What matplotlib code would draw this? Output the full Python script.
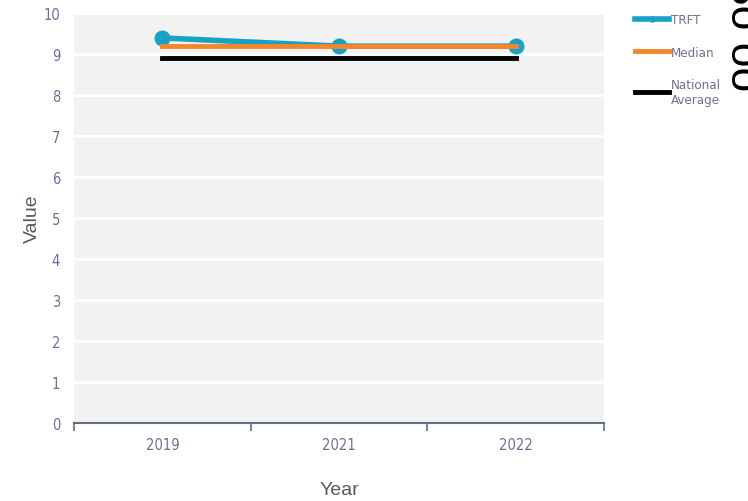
import numpy as np
import matplotlib.pyplot as plt

years = ['2019', '2021', '2022']
trft = [9.4, 9.2, 9.2]
median = [9.2, 9.2, 9.2]
national = [8.9, 8.9, 8.9]

plt.rcParams['font.family'] = ['DejaVu Sans']
plt.rcParams['font.stretch'] = 'condensed'

tick_col = '#6e6e9e'
fig = plt.figure(figsize=(7.48, 5.02), dpi=100)
ax = fig.add_axes([0.0989, 0.1554, 0.7086, 0.816])
ax.set_facecolor('#f2f2f2')

x = np.arange(len(years))
ax.plot(x, trft, color='#17a2c6', lw=4, marker='o', ms=10.5, label='TRFT', zorder=4)
ax.plot(x, median, color='#f5862a', lw=3.5, label='Median', zorder=5)
ax.plot(x, national, color='black', lw=3.5, label='National\nAverage', zorder=3)

ax.set_ylim(0, 10)
ax.set_yticks(range(0, 11))
ax.set_xlim(-0.5, 2.5)
ax.set_xticks([-0.5, 0.5, 1.5, 2.5])
ax.set_xticklabels([])
ax.set_xticks(x, minor=True)
ax.set_xticklabels(years, minor=True)
ax.tick_params(axis='x', which='major', length=6, width=1.2, color='#607080', direction='out')
ax.tick_params(axis='x', which='minor', length=0, pad=10, labelsize=10.5, labelcolor=tick_col)
ax.tick_params(axis='y', length=0, pad=10, labelsize=10.5, labelcolor=tick_col)
ax.grid(axis='y', color='white', lw=2)
ax.set_axisbelow(True)
for s in ['top', 'right', 'left']:
    ax.spines[s].set_visible(False)
ax.spines['bottom'].set_color('#607080')
ax.spines['bottom'].set_linewidth(1.5)

ax.set_xlabel('Year', fontsize=14, color='#555a60', labelpad=21,
              family='Liberation Sans', stretch='normal')
ax.set_ylabel('Value', fontsize=14, color='#555a60', labelpad=2,
              family='Liberation Sans', stretch='normal')

h, l = ax.get_legend_handles_labels()
leg = fig.legend(h, l, loc='upper left', bbox_to_anchor=(0.833, 0.995), frameon=False,
                 fontsize=9.5, handlelength=2.6, handletextpad=0.15, labelspacing=1.45,
                 markerscale=0.35)
for t in leg.get_texts():
    t.set_color(tick_col)

# cut-off rotated text at the right edge
fig.text(0.965, 1.04, '8o oo', rotation=-90, fontsize=32, ha='left', va='top',
         color='black', family='Liberation Sans', stretch='normal')

fig.savefig('out.png', dpi=100)
